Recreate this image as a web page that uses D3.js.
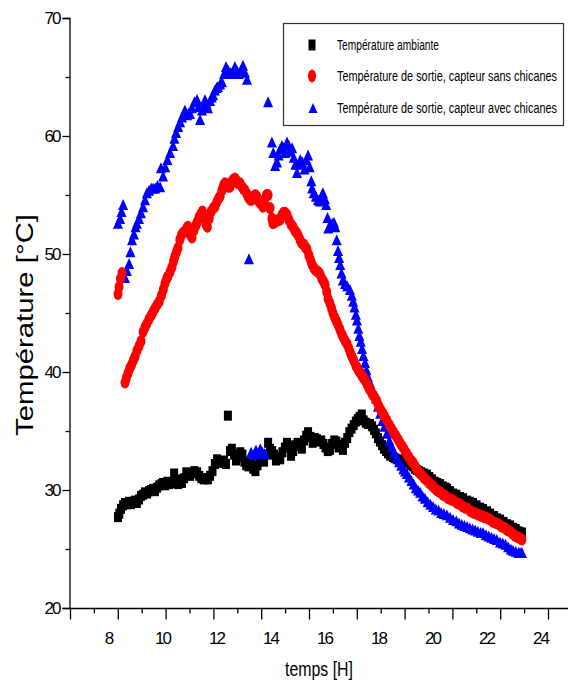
<!DOCTYPE html>
<html>
<head>
<meta charset="utf-8">
<script src="https://cdn.jsdelivr.net/npm/d3@7"></script>
<style>
  body { margin: 0; background: #fff; }
  text { font-family: "Liberation Sans", Arial, sans-serif; fill: #000; }
</style>
</head>
<body>
<div id="chart"></div>
<script>
/* Data: [hour, temperature °C] */
var ambient = [
  [8.37,27.7],[8.42,28.0],[8.48,28.4],[8.56,28.7],[8.63,28.9],[8.7,28.8],[8.78,29.0],[8.85,28.8],[8.93,29.0],[9.0,29.1],
  [9.07,28.9],[9.15,29.2],[9.22,29.5],[9.3,29.6],[9.37,29.8],[9.45,29.7],[9.52,29.9],[9.6,30.0],[9.67,30.1],[9.74,29.9],
  [9.82,30.2],[9.9,30.4],[9.98,30.5],[10.04,30.6],[10.12,30.4],[10.2,30.7],[10.27,30.5],[10.34,30.6],[10.45,31.4],[10.52,30.8],
  [10.6,30.5],[10.67,30.9],[10.74,30.6],[10.82,31.0],[10.9,31.5],[10.96,31.4],[11.04,31.2],[11.12,31.4],[11.2,31.6],[11.3,31.5],
  [11.38,31.2],[11.46,31.0],[11.55,30.9],[11.63,31.0],[11.7,30.9],[11.78,31.2],[11.87,31.6],[11.96,32.2],[12.04,32.6],[12.11,32.4],
  [12.2,32.3],[12.3,32.5],[12.37,32.2],[12.44,36.3],[12.52,33.3],[12.59,33.5],[12.67,33.0],[12.74,32.5],[12.82,32.8],[12.9,33.2],
  [12.98,33.0],[13.05,32.4],[13.12,32.1],[13.2,32.0],[13.3,32.3],[13.38,31.8],[13.46,31.6],[13.54,32.1],[13.62,32.6],[13.7,32.8],
  [13.78,32.4],[13.86,33.0],[13.93,34.0],[14.0,33.5],[14.08,33.3],[14.15,33.0],[14.22,32.5],[14.3,32.8],[14.38,32.6],[14.46,33.2],
  [14.55,33.6],[14.63,34.0],[14.7,33.7],[14.78,32.9],[14.86,33.3],[14.94,33.8],[15.02,34.0],[15.1,33.7],[15.18,33.5],[15.26,34.2],
  [15.34,34.6],[15.41,34.9],[15.5,34.5],[15.58,34.0],[15.66,34.4],[15.74,34.3],[15.82,34.1],[15.9,34.2],[15.98,33.9],[16.06,33.6],
  [16.14,33.3],[16.22,33.4],[16.3,33.9],[16.38,34.2],[16.46,34.1],[16.54,33.6],[16.62,33.8],[16.7,33.4],[16.78,34.0],[16.86,34.4],
  [16.94,34.9],[17.02,35.2],[17.1,35.5],[17.18,35.8],[17.25,36.0],[17.32,36.2],[17.4,36.4],[17.47,35.9],[17.55,35.7],[17.63,35.6],
  [17.7,35.6],[17.78,35.4],[17.85,35.1],[17.92,34.8],[18.0,34.4],[18.07,34.1],[18.15,33.8],[18.22,33.5],[18.3,33.3],[18.37,33.1],
  [18.45,32.9],[18.55,32.8],[18.62,32.7],[18.7,32.6],[18.8,32.6],[18.9,32.5],[19.0,32.4],[19.07,32.4],[19.15,32.3],[19.22,32.1],
  [19.3,32.0],[19.37,31.8],[19.44,31.7],[19.52,31.6],[19.6,31.5],[19.7,31.4],[19.81,31.3],[19.9,31.1],[20.0,30.9],[20.1,30.7],
  [20.19,30.6],[20.3,30.5],[20.4,30.3],[20.5,30.2],[20.56,30.1],[20.67,29.9],[20.78,29.7],[20.9,29.6],[21.04,29.4],[21.15,29.3],
  [21.3,29.1],[21.4,29.0],[21.52,28.9],[21.65,28.7],[21.78,28.5],[21.89,28.4],[22.04,28.2],[22.15,28.0],[22.3,27.8],[22.4,27.6],
  [22.52,27.5],[22.65,27.3],[22.78,27.1],[22.89,27.0],[23.0,26.8],[23.1,26.7],[23.2,26.5],[23.26,26.4],[23.33,26.4]
];

var outletNoBaffles = [
  [8.37,46.6],[8.41,47.2],[8.46,47.9],[8.52,48.4],[8.63,39.1],[8.68,39.5],[8.74,39.9],[8.8,40.3],[8.87,40.6],[8.94,41.0],
  [9.0,41.3],[9.07,41.8],[9.15,42.2],[9.22,42.6],[9.3,43.4],[9.37,43.8],[9.44,44.1],[9.52,44.5],[9.6,44.8],[9.67,45.1],
  [9.74,45.4],[9.82,45.7],[9.9,46.0],[9.98,46.5],[10.05,47.0],[10.11,47.5],[10.17,47.9],[10.22,48.1],[10.3,48.5],[10.37,48.9],
  [10.43,49.4],[10.48,49.8],[10.54,50.2],[10.59,50.5],[10.66,51.2],[10.72,51.6],[10.78,51.8],[10.85,51.9],[10.92,52.2],[10.96,52.3],
  [11.04,51.7],[11.11,51.4],[11.18,52.0],[11.25,52.4],[11.3,52.7],[11.37,53.1],[11.44,53.4],[11.5,53.6],[11.57,53.0],[11.63,52.5],
  [11.68,52.3],[11.75,53.0],[11.82,53.6],[11.9,53.9],[11.96,54.0],[12.03,54.4],[12.1,54.7],[12.15,54.9],[12.22,55.4],[12.28,55.8],
  [12.33,56.0],[12.4,55.9],[12.46,55.7],[12.52,55.7],[12.58,56.1],[12.64,56.3],[12.7,56.4],[12.76,56.2],[12.82,56.0],[12.89,56.0],
  [12.96,55.7],[13.02,55.5],[13.07,55.4],[13.14,55.1],[13.2,54.8],[13.27,54.6],[13.33,54.6],[13.4,54.9],[13.46,55.0],[13.52,54.8],
  [13.58,54.5],[13.64,54.3],[13.7,54.2],[13.74,54.0],[13.8,54.6],[13.87,55.0],[13.93,55.0],[14.0,53.9],[14.07,53.0],[14.11,52.6],
  [14.18,52.7],[14.25,52.8],[14.32,52.9],[14.37,52.9],[14.44,53.3],[14.5,53.5],[14.56,53.5],[14.63,53.3],[14.7,52.9],[14.78,52.5],
  [14.85,52.3],[14.92,52.0],[14.98,51.8],[15.04,51.6],[15.11,51.2],[15.18,50.9],[15.25,50.8],[15.31,50.6],[15.37,50.4],[15.44,49.9],
  [15.5,49.5],[15.56,49.1],[15.63,48.8],[15.7,48.6],[15.78,48.5],[15.85,48.3],[15.92,47.9],[15.98,47.7],[16.04,47.4],[16.1,46.8],
  [16.15,46.2],[16.22,45.8],[16.28,45.4],[16.33,45.0],[16.4,44.6],[16.46,44.3],[16.52,44.0],[16.59,43.6],[16.66,43.2],[16.72,42.9],
  [16.79,42.6],[16.85,42.4],[16.92,42.0],[16.98,41.6],[17.04,41.3],[17.1,41.0],[17.17,40.6],[17.22,40.4],[17.28,40.1],[17.33,40.0],
  [17.4,39.7],[17.46,39.5],[17.52,39.3],[17.59,39.0],[17.65,38.7],[17.7,38.5],[17.77,38.2],[17.83,38.0],[17.89,37.8],[17.96,37.5],
  [18.03,37.1],[18.1,36.8],[18.18,36.5],[18.25,36.2],[18.33,35.9],[18.42,35.5],[18.5,35.2],[18.58,34.9],[18.66,34.6],[18.74,34.3],
  [18.81,34.0],[18.9,33.7],[18.98,33.4],[19.06,33.1],[19.14,32.8],[19.22,32.5],[19.3,32.3],[19.38,32.0],[19.46,31.7],[19.55,31.4],
  [19.64,31.2],[19.72,31.0],[19.81,30.8],[19.9,30.6],[19.99,30.4],[20.08,30.2],[20.17,30.0],[20.24,29.9],[20.3,29.8],[20.4,29.6],
  [20.5,29.5],[20.6,29.3],[20.7,29.2],[20.8,29.1],[20.93,28.9],[21.03,28.8],[21.13,28.6],[21.23,28.5],[21.33,28.4],[21.43,28.2],
  [21.52,28.1],[21.62,28.0],[21.72,27.9],[21.83,27.8],[21.94,27.7],[22.05,27.6],[22.15,27.5],[22.25,27.3],[22.36,27.2],[22.47,27.1],
  [22.57,26.9],[22.68,26.8],[22.78,26.6],[22.88,26.5],[22.98,26.3],[23.08,26.1],[23.18,26.0],[23.26,25.9],[23.33,25.8]
];

var outletBaffles = [
  [8.37,52.6],[8.45,53.0],[8.5,53.6],[8.56,54.2],[8.63,48.0],[8.7,48.6],[8.78,49.2],[8.83,50.2],[8.89,51.2],[8.96,51.7],
  [9.02,52.3],[9.07,52.6],[9.15,53.0],[9.22,53.5],[9.3,54.0],[9.37,54.6],[9.44,55.2],[9.52,55.4],[9.6,55.6],[9.67,55.6],
  [9.75,55.6],[9.83,55.8],[9.93,55.7],[9.96,57.3],[10.04,56.6],[10.12,57.4],[10.2,58.0],[10.3,58.6],[10.41,59.2],[10.46,59.8],
  [10.52,60.3],[10.6,60.8],[10.67,61.2],[10.74,61.6],[10.8,61.9],[10.85,62.2],[10.93,61.8],[11.0,62.0],[11.04,61.9],[11.11,62.4],
  [11.2,62.9],[11.3,63.1],[11.36,62.5],[11.41,61.4],[11.48,62.2],[11.54,62.6],[11.59,63.1],[11.65,62.8],[11.7,62.4],[11.78,63.0],
  [11.84,63.3],[11.89,63.5],[11.96,63.9],[12.02,64.1],[12.07,64.2],[12.15,64.4],[12.22,64.6],[12.3,65.3],[12.37,65.9],[12.44,65.6],
  [12.52,65.4],[12.59,65.3],[12.65,65.6],[12.7,65.9],[12.78,65.5],[12.85,65.3],[12.92,65.6],[13.0,66.0],[13.07,65.4],[13.15,64.8],
  [13.22,49.6],[13.3,33.2],[13.4,33.0],[13.48,33.4],[13.56,33.1],[13.64,33.5],[13.72,33.2],[13.8,33.1],[13.93,62.9],[14.07,59.5],
  [14.12,58.6],[14.19,57.5],[14.26,57.8],[14.32,58.4],[14.37,58.9],[14.44,59.2],[14.5,59.0],[14.56,58.6],[14.63,59.5],[14.7,59.2],
  [14.76,58.7],[14.82,59.0],[14.88,58.2],[14.94,57.6],[15.0,56.9],[15.06,57.6],[15.12,58.0],[15.2,57.8],[15.28,57.2],[15.35,58.0],
  [15.41,58.4],[15.47,57.4],[15.53,56.2],[15.56,55.6],[15.62,55.2],[15.7,54.9],[15.78,54.6],[15.85,54.5],[15.92,55.0],[15.96,55.2],
  [16.03,54.7],[16.08,54.2],[16.13,53.1],[16.16,52.2],[16.22,52.4],[16.3,52.6],[16.37,52.7],[16.42,52.3],[16.47,51.2],[16.52,50.3],
  [16.56,49.7],[16.6,49.1],[16.65,48.4],[16.7,47.8],[16.78,47.5],[16.86,47.3],[16.96,47.0],[17.03,46.5],[17.08,46.0],[17.13,45.5],
  [17.18,44.9],[17.22,44.4],[17.27,43.7],[17.31,43.1],[17.36,42.6],[17.41,42.0],[17.46,41.4],[17.52,40.8],[17.57,40.2],[17.63,39.6],
  [17.7,39.1],[17.78,38.6],[17.86,38.2],[17.93,37.8],[18.0,37.1],[18.08,36.5],[18.16,35.9],[18.24,35.4],[18.33,34.8],[18.42,34.2],
  [18.51,33.7],[18.6,33.2],[18.7,32.8],[18.78,32.4],[18.86,32.1],[18.94,31.8],[19.0,31.6],[19.07,31.4],[19.15,31.1],[19.24,30.8],
  [19.32,30.5],[19.4,30.2],[19.48,30.0],[19.56,29.8],[19.65,29.5],[19.74,29.3],[19.84,29.0],[19.94,28.8],[20.04,28.6],[20.14,28.4],
  [20.24,28.3],[20.34,28.1],[20.44,28.0],[20.55,27.9],[20.67,27.7],[20.78,27.5],[20.9,27.4],[21.0,27.2],[21.1,27.1],[21.2,27.0],
  [21.3,26.9],[21.4,26.8],[21.5,26.7],[21.6,26.6],[21.7,26.5],[21.8,26.4],[21.89,26.4],[22.0,26.2],[22.1,26.1],[22.2,26.0],
  [22.3,25.9],[22.4,25.8],[22.52,25.6],[22.62,25.5],[22.72,25.4],[22.82,25.2],[22.92,25.0],[23.0,24.9],[23.1,24.8],[23.2,24.7],
  [23.26,24.7],[23.33,24.7]
];

var seriesNames = [
  "Température ambiante",
  "Température de sortie, capteur sans chicanes",
  "Température de sortie, capteur avec chicanes"
];
var xTickLabels = [8, 10, 12, 14, 16, 18, 20, 22, 24];
var yTickLabels = [20, 30, 40, 50, 60, 70];
var yMinorTicks = [25, 35, 45, 55, 65];

var width = 568, height = 686;

var svg = d3.select("#chart").append("svg")
    .attr("width", width)
    .attr("height", height);

// scales
var x = d3.scaleLinear().domain([8, 24]).range([108, 540]);
var y = d3.scaleLinear().domain([20, 70]).range([608, 18]);
// the tick marks of the original axis don't line up with its labels
var xMarks = d3.scaleLinear().domain([0, 20]).range([70, 548]);

// x axis line runs to the edge
svg.append("line")
    .attr("x1", 70).attr("x2", width)
    .attr("y1", 608.5).attr("y2", 608.5)
    .attr("stroke", "#000").attr("stroke-width", 1.3);

var gxMajor = svg.append("g")
    .attr("transform", "translate(0,608.5)")
    .call(d3.axisBottom(xMarks).tickValues(d3.range(0, 21, 2)).tickSize(11).tickFormat(""));
var gxMinor = svg.append("g")
    .attr("transform", "translate(0,608.5)")
    .call(d3.axisBottom(xMarks).tickValues(d3.range(1, 20, 2)).tickSize(5).tickFormat(""));
[gxMajor, gxMinor].forEach(function (g) {
    g.select(".domain").remove();
    g.selectAll("line").attr("stroke-width", 1.3);
});

var gxLabels = svg.append("g")
    .attr("transform", "translate(0,608.5)")
    .call(d3.axisBottom(x).tickValues(xTickLabels).tickSize(0).tickPadding(23));
gxLabels.select(".domain").remove();
gxLabels.selectAll("text")
    .attr("font-size", 17)
    .attr("font-family", "Liberation Sans, Arial, sans-serif")
    .attr("letter-spacing", "-2px");

// y axis
var gy = svg.append("g")
    .attr("transform", "translate(69.5,0)")
    .call(d3.axisLeft(y).tickValues(yTickLabels).tickSize(7).tickPadding(3));
gy.select(".domain").attr("stroke-width", 1.3);
gy.selectAll("line").attr("stroke-width", 1.3);
gy.selectAll("text")
    .attr("font-size", 17)
    .attr("font-family", "Liberation Sans, Arial, sans-serif")
    .attr("letter-spacing", "-2px");

var gyMinor = svg.append("g")
    .attr("transform", "translate(69.5,0)")
    .call(d3.axisLeft(y).tickValues(yMinorTicks).tickSize(4).tickFormat(""));
gyMinor.select(".domain").remove();
gyMinor.selectAll("line").attr("stroke-width", 1.3);

// axis titles
svg.append("text")
    .attr("x", 319).attr("y", 676)
    .attr("text-anchor", "middle")
    .attr("font-size", 21)
    .attr("textLength", 68)
    .attr("lengthAdjust", "spacingAndGlyphs")
    .text("temps [H]");

svg.append("text")
    .attr("transform", "translate(33,325) rotate(-90)")
    .attr("text-anchor", "middle")
    .attr("font-size", 24)
    .attr("textLength", 222)
    .attr("lengthAdjust", "spacingAndGlyphs")
    .text("Température [°C]");

// marker shapes
function drawSquares(g, data, w, h) {
    g.selectAll("rect").data(data).enter().append("rect")
        .attr("x", function (d) { return x(d[0]) - w / 2; })
        .attr("y", function (d) { return y(d[1]) - h / 2; })
        .attr("width", w).attr("height", h)
        .attr("fill", "#000");
}
function drawCircles(g, data, rx, ry) {
    g.selectAll("ellipse").data(data).enter().append("ellipse")
        .attr("cx", function (d) { return x(d[0]); })
        .attr("cy", function (d) { return y(d[1]); })
        .attr("rx", rx).attr("ry", ry)
        .attr("fill", "#ff0000");
}
function triPath(w, h) {
    return "M0," + (-h / 2) + "L" + (w / 2) + "," + (h / 2) + "L" + (-w / 2) + "," + (h / 2) + "Z";
}
function drawTriangles(g, data, w, h) {
    g.selectAll("path").data(data).enter().append("path")
        .attr("transform", function (d) { return "translate(" + x(d[0]) + "," + y(d[1]) + ")"; })
        .attr("d", triPath(w, h))
        .attr("fill", "#0000ff");
}

drawSquares(svg.append("g"), ambient, 8, 10);
drawTriangles(svg.append("g"), outletBaffles, 10, 11);
drawCircles(svg.append("g"), outletNoBaffles, 4.5, 6);

// legend
var legend = svg.append("g");
legend.append("rect")
    .attr("x", 283.5).attr("y", 23.5)
    .attr("width", 280).attr("height", 102)
    .attr("fill", "#fff")
    .attr("stroke", "#333").attr("stroke-width", 1.2);

var rowY = [45, 76, 108];
var rowLen = [102, 220, 220];

legend.append("rect")
    .attr("x", 312 - 3.5).attr("y", rowY[0] - 5.5)
    .attr("width", 7).attr("height", 11).attr("fill", "#000");
legend.append("ellipse")
    .attr("cx", 312).attr("cy", rowY[1])
    .attr("rx", 4).attr("ry", 6.5).attr("fill", "#ff0000");
legend.append("path")
    .attr("transform", "translate(313," + rowY[2] + ")")
    .attr("d", triPath(9, 10)).attr("fill", "#0000ff");

// narrow, tall legend lettering as in the original
seriesNames.forEach(function (name, i) {
    legend.append("text")
        .attr("transform", "translate(337," + (rowY[i] + 5) + ") scale(1,1.3)")
        .attr("font-size", 11)
        .attr("textLength", rowLen[i])
        .attr("lengthAdjust", "spacingAndGlyphs")
        .text(name);
});
</script>
</body>
</html>
